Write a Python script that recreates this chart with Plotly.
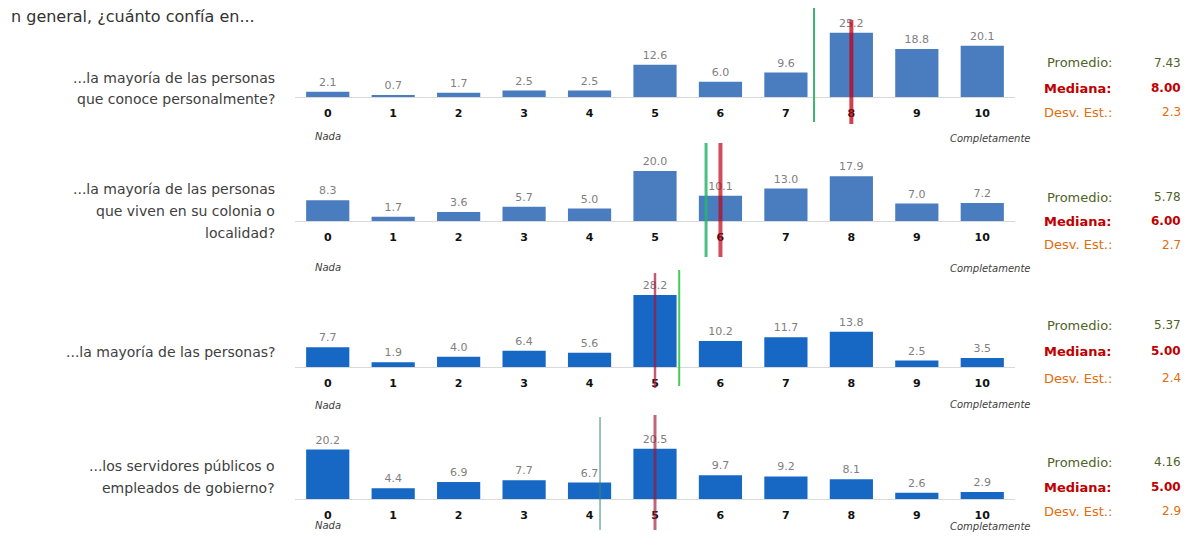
import plotly.graph_objects as go

categories = [0, 1, 2, 3, 4, 5, 6, 7, 8, 9, 10]
tick_labels = ["0", "1", "2", "3", "4", "5", "6", "7", "8", "9", "10"]

vals_conoce = [2.1, 0.7, 1.7, 2.5, 2.5, 12.6, 6.0, 9.6, 25.2, 18.8, 20.1]
vals_colonia = [8.3, 1.7, 3.6, 5.7, 5.0, 20.0, 10.1, 13.0, 17.9, 7.0, 7.2]
vals_personas = [7.7, 1.9, 4.0, 6.4, 5.6, 28.2, 10.2, 11.7, 13.8, 2.5, 3.5]
vals_servidores = [20.2, 4.4, 6.9, 7.7, 6.7, 20.5, 9.7, 9.2, 8.1, 2.6, 2.9]

questions = [
    "...la mayoría de las personas<br>que conoce personalmente?",
    "...la mayoría de las personas<br>que viven en su colonia o<br>localidad?",
    "...la mayoría de las personas?",
    "...los servidores públicos o<br>empleados de gobierno?",
]
promedios = [7.43, 5.78, 5.37, 4.16]
medianas = [8.00, 6.00, 5.00, 5.00]
desv_est = [2.3, 2.7, 2.4, 2.9]

title_text = "n general, ¿cuánto confía en..."

# page body has an 8px margin around the figure
O = 8
PW, PH = 1193, 541
W, H = PW - 2 * O, PH - 2 * O
L, R = 295, 1015          # plot area, page pixels
FONT = "DejaVu Sans, Verdana, sans-serif"

def px(x):
    return (x - L) / (R - L)

def py(y):
    return 1 - (y - O) / H

series = [vals_conoce, vals_colonia, vals_personas, vals_servidores]
bar_colors = ["#4a7dc0", "#4a7dc0", "#1668c4", "#1668c4"]
panels = [
    dict(base=97, top=20, scale=2.55),
    dict(base=221, top=150, scale=2.5),
    dict(base=367, top=285, scale=2.55),
    dict(base=499, top=425, scale=2.45),
]
q_y = [[78, 99], [189, 211, 233], [352], [466, 488]]
stat_y = [[63, 88, 112], [197, 221, 245], [325, 351, 378], [462, 487, 511]]
nada_y = [136, 267, 405, 525]
comp_y = [138, 268, 404, 526]

lines_cfg = [
    dict(g=(8, 122, "#3cb371", 2), r=(20, 124, "rgba(192,0,20,0.75)", 4)),
    dict(g=(143, 257, "rgba(40,180,110,0.85)", 3), r=(143, 257, "rgba(192,0,20,0.7)", 4)),
    dict(g=(270, 386, "#44cc55", 2), r=(273, 388, "rgba(170,20,60,0.7)", 2.5)),
    dict(g=(417, 530, "#3a8a70", 1), r=(415, 530, "rgba(160,20,50,0.65)", 3)),
]

fig = go.Figure()
layout = dict(
    width=W, height=H, autosize=False,
    margin=dict(l=L - O, r=W - (R - O), t=0, b=0),
    paper_bgcolor="white", plot_bgcolor="white",
    showlegend=False, bargap=0.34,
    font=dict(family=FONT),
)
annotations = []
shapes = []

for i, vals in enumerate(series):
    n = "" if i == 0 else str(i + 1)
    p = panels[i]
    fig.add_trace(go.Bar(
        x=categories, y=vals,
        xaxis="x" + n, yaxis="y" + n,
        marker=dict(color=bar_colors[i], line=dict(width=0)),
        text=[f"{v:.1f}" for v in vals], textposition="outside",
        textfont=dict(size=11, color="#808080", family=FONT),
        cliponaxis=False, hoverinfo="skip",
    ))
    layout["xaxis" + n] = dict(
        domain=[0, 1], range=[-0.5, 10.5], anchor="y" + n,
        tickmode="array", tickvals=categories,
        ticktext=[f"<b>{t}</b>" for t in tick_labels],
        tickfont=dict(size=11, color="#111111", family=FONT),
        ticks="outside", ticklen=6, tickcolor="rgba(0,0,0,0)",
        showline=True, linecolor="#d9d9d9", linewidth=1,
        showgrid=False, zeroline=False, fixedrange=True,
    )
    layout["yaxis" + n] = dict(
        domain=[py(p["base"]), py(p["top"])],
        range=[0, (p["base"] - p["top"]) / p["scale"]],
        anchor="x" + n, visible=False, showgrid=False, zeroline=False,
    )
    for j, line in enumerate(questions[i].split("<br>")):
        annotations.append(dict(
            xref="paper", yref="paper", x=px(277), y=py(q_y[i][j]),
            xanchor="right", yanchor="middle", text=line, showarrow=False,
            font=dict(size=14, color="#404040", family=FONT),
        ))
    labels = [("Promedio:", f"{promedios[i]:.2f}", "#4f6228", False),
              ("Mediana:", f"{medianas[i]:.2f}", "#c00000", True),
              ("Desv. Est.:", f"{desv_est[i]:.1f}", "#e46c0a", False)]
    for j, (lab, val, col, bold) in enumerate(labels):
        t1 = f"<b>{lab}</b>" if bold else lab
        t2 = f"<b>{val}</b>" if bold else val
        annotations.append(dict(
            xref="paper", yref="paper", x=px(1114), y=py(stat_y[i][j]),
            xanchor="right", yanchor="middle", text=t1, showarrow=False,
            font=dict(size=13, color=col, family=FONT),
        ))
        annotations.append(dict(
            xref="paper", yref="paper", x=px(1183), y=py(stat_y[i][j]),
            xanchor="right", yanchor="middle", text=t2, showarrow=False,
            font=dict(size=12, color=col, family=FONT),
        ))
    annotations.append(dict(
        xref="x" + n, yref="paper", x=categories[0], y=py(nada_y[i]),
        xanchor="center", yanchor="middle", text="<i>Nada</i>", showarrow=False,
        font=dict(size=10, color="#404040", family=FONT),
    ))
    annotations.append(dict(
        xref="x" + n, yref="paper", x=categories[-1] + 0.12, y=py(comp_y[i]),
        xanchor="center", yanchor="middle", text="<i>Completamente</i>", showarrow=False,
        font=dict(size=10, color="#404040", family=FONT),
    ))
    lc = lines_cfg[i]
    g0, g1, gc, gw = lc["g"]
    r0, r1, rc, rw = lc["r"]
    shapes.append(dict(type="line", xref="x" + n, yref="paper",
                       x0=promedios[i], x1=promedios[i], y0=py(g1), y1=py(g0),
                       line=dict(color=gc, width=gw), layer="above"))
    shapes.append(dict(type="line", xref="x" + n, yref="paper",
                       x0=medianas[i], x1=medianas[i], y0=py(r1), y1=py(r0),
                       line=dict(color=rc, width=rw), layer="above"))

annotations.append(dict(
    xref="paper", yref="paper", x=px(O + 1), y=py(16),
    xanchor="left", yanchor="middle", text=title_text, showarrow=False,
    font=dict(size=16, color="#333333", family=FONT),
))

layout["annotations"] = annotations
layout["shapes"] = shapes
fig.update_layout(**layout)
fig.write_html("out.html")
